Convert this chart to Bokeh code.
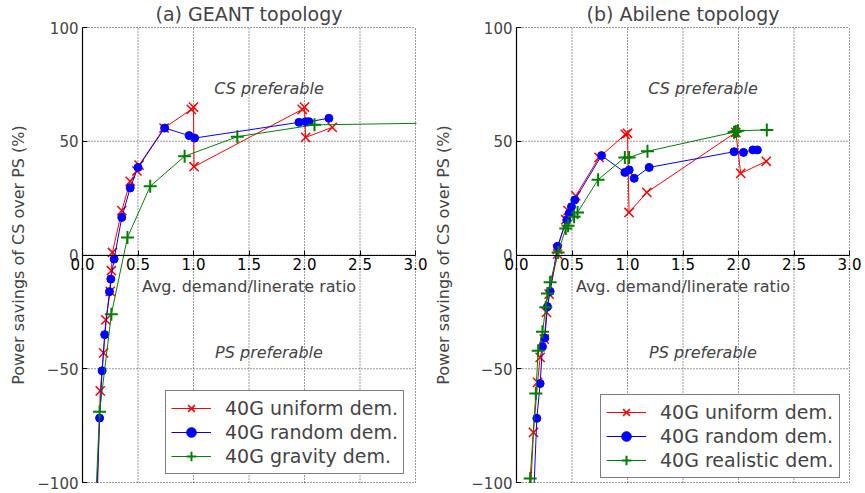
import math
from bokeh.plotting import figure
from bokeh.layouts import row
from bokeh.models import (Range1d, FixedTicker, CustomJSTickFormatter, Label,
                          Legend, LegendItem, BoxAnnotation)
from bokeh.embed import file_html
from bokeh.resources import INLINE

# ---------------- data ----------------
x_ticks = [0.0, 0.5, 1.0, 1.5, 2.0, 2.5, 3.0]
y_ticks = [-100, -50, 0, 50, 100]

# (a) GEANT topology
geant_uniform_x = [0.12, 0.16, 0.19, 0.21, 0.25, 0.26, 0.27, 0.354, 0.43, 0.49, 0.51,
                   0.735, 0.98, 1.0, 1.005, 1.98, 2.0, 2.01, 2.25]
geant_uniform_y = [-130, -59.7, -43, -28.5, -16, -6.9, 1.1, 19.5, 32.4, 37, 39.5,
                   55.8, 64, 65, 38.8, 64, 65, 51.7, 56.1]
geant_random_x = [0.11, 0.154, 0.177, 0.2, 0.243, 0.255, 0.285, 0.354, 0.43, 0.5,
                  0.74, 0.96, 1.01, 1.95, 2.01, 2.04, 2.22]
geant_random_y = [-130, -71.7, -50.9, -35, -16.1, -10.6, -1.8, 16.5, 29.5, 38.5,
                  55.8, 52.5, 51.4, 58.3, 58.6, 58.6, 60.1]
geant_gravity_x = [0.09, 0.154, 0.26, 0.405, 0.61, 0.92, 1.395, 2.09, 4.0]
geant_gravity_y = [-140, -68.9, -26, 7.7, 30.2, 43.4, 52, 57.2, 58.6]

# (b) Abilene topology
abilene_uniform_x = [0.11, 0.153, 0.19, 0.213, 0.25, 0.27, 0.294, 0.37, 0.369, 0.444,
                     0.465, 0.534, 0.744, 0.98, 1.0, 1.014, 1.174, 1.976, 2.02, 2.25]
abilene_uniform_y = [-120, -78, -56, -45, -37, -25.2, -17.2, 0.4, 2.6, 15.5,
                     19.5, 26, 42.9, 53, 53.5, 18.7, 27.5, 53.9, 35.9, 41.2]
abilene_random_x = [0.143, 0.183, 0.213, 0.234, 0.255, 0.279, 0.303, 0.369, 0.453,
                    0.474, 0.495, 0.525, 0.766, 0.976, 1.015, 1.06, 1.195, 1.96,
                    2.045, 2.13, 2.17]
abilene_random_y = [-120, -71.8, -56.5, -40.3, -36.5, -22.7, -16, 3.8, 15.4,
                    18.3, 21.2, 24.2, 43.7, 36.3, 37.4, 33.7, 38.5, 45.4,
                    45.1, 46.2, 46.2]
abilene_real_x = [0.123, 0.174, 0.195, 0.234, 0.264, 0.279, 0.303, 0.375, 0.444,
                  0.465, 0.519, 0.55, 0.735, 0.976, 1.015, 1.18, 1.96, 1.976,
                  1.995, 2.255]
abilene_real_y = [-98.2, -60.9, -42.1, -33.7, -23, -16.9, -12, 1.1, 11.7,
                  12.9, 16.8, 18.7, 33.1, 42.9, 42.9, 45.6, 54, 54.3,
                  54.6, 55]

geant_labels = ["40G uniform dem.", "40G random dem.", "40G gravity dem."]
abilene_labels = ["40G uniform dem.", "40G random dem.", "40G realistic dem."]

FONT = "DejaVu Sans"
RED, BLUE, GREEN = "#ff0000", "#0000ff", "#008000"

H = 493
PLOT_W_PX = 333     # pixel width of the 0..3 data area
PLOT_TOP_PX = 27    # pixel row of y = 100
PLOT_H_PX = 455     # pixel height of the -100..100 data area


def make_panel(title, series, labels, width, left_px, ylab_dx, legend_loc):
    xs_per_px = (x_ticks[-1] - x_ticks[0]) / PLOT_W_PX
    ys_per_px = (y_ticks[-1] - y_ticks[0]) / PLOT_H_PX
    x_rng = Range1d(x_ticks[0] - left_px * xs_per_px,
                    x_ticks[0] + (width - left_px) * xs_per_px)
    y_rng = Range1d(y_ticks[0] - (H - PLOT_TOP_PX - PLOT_H_PX) * ys_per_px,
                    y_ticks[-1] + PLOT_TOP_PX * ys_per_px)
    p = figure(width=width, height=H, x_range=x_rng, y_range=y_rng, title=None,
               output_backend="svg", toolbar_location=None,
               min_border_left=0, min_border_right=0,
               min_border_top=0, min_border_bottom=0)
    p.outline_line_color = None
    p.background_fill_color = "white"
    p.border_fill_color = "white"
    p.xgrid.visible = False
    p.ygrid.visible = False

    # dotted grid restricted to the data area
    p.segment(x0=x_ticks, y0=[y_ticks[0]] * len(x_ticks),
              x1=x_ticks, y1=[y_ticks[-1]] * len(x_ticks),
              line_color="black", line_dash="1 2", line_width=0.8)
    p.segment(x0=[x_ticks[0]] * len(y_ticks), y0=y_ticks,
              x1=[x_ticks[-1]] * len(y_ticks), y1=y_ticks,
              line_color="black", line_dash="1 2", line_width=0.8)

    items = []
    styles = [
        (RED, "x", 13, 1.5),
        (BLUE, "circle", 8, 1),
        (GREEN, "cross", 13, 2),
    ]
    for (xs, ys), lab, (col, mk, sz, lw) in zip(series, labels, styles):
        ln = p.line(xs, ys, line_color=col, line_width=1)
        if mk == "circle":
            sc = p.scatter(xs, ys, marker=mk, size=sz, fill_color=col, line_color=col)
        else:
            sc = p.scatter(xs, ys, marker=mk, size=sz, line_color=col, line_width=lw)
        items.append(LegendItem(label=lab, renderers=[ln, sc]))

    # white masks: hide what runs beyond the axes area (right of x=3, below y=-100)
    p.add_layout(BoxAnnotation(left=x_ticks[-1] + 1.0 * xs_per_px, fill_color="white",
                               fill_alpha=1, line_color=None))
    p.add_layout(BoxAnnotation(top=y_ticks[0] - 0.6 * ys_per_px,
                               left=x_ticks[0] + 1.0 * xs_per_px, fill_color="white",
                               fill_alpha=1, line_color=None))

    xa = p.xaxis[0]
    xa.fixed_location = 0
    xa.bounds = (x_ticks[0], x_ticks[-1])
    xa.ticker = FixedTicker(ticks=x_ticks)
    xa.major_tick_in = 5
    xa.major_tick_out = 0
    xa.minor_tick_line_color = None
    xa.major_label_text_color = None
    xa.axis_line_color = "black"
    xa.axis_line_width = 1.2

    ya = p.yaxis[0]
    ya.fixed_location = 0
    ya.bounds = (y_ticks[0], y_ticks[-1])
    ya.ticker = FixedTicker(ticks=y_ticks)
    ya.formatter = CustomJSTickFormatter(
        code="return tick < 0 ? '\u2212' + String(-tick) : String(tick);")
    ya.major_tick_in = 5
    ya.major_tick_out = 0
    ya.minor_tick_line_color = None
    ya.major_label_standoff = 4
    ya.major_label_text_font = FONT
    ya.major_label_text_font_size = "15px"
    ya.axis_line_color = "black"
    ya.axis_line_width = 1.2

    # x tick labels under the centred axis
    for t in x_ticks:
        p.add_layout(Label(x=t, y=0, text="%.1f" % t, text_align="center",
                           text_baseline="top", y_offset=-3, text_font=FONT,
                           text_font_size="15px", text_color="black"))

    leg = Legend(items=items, location=legend_loc)
    leg.border_line_color = "black"
    leg.border_line_width = 1
    leg.background_fill_alpha = 1
    leg.label_text_font = FONT
    leg.label_text_font_size = "19px"
    leg.glyph_width = 40
    leg.glyph_height = 24
    leg.label_height = 24
    leg.spacing = 0
    leg.padding = 5
    leg.margin = 0
    leg.label_standoff = 14
    p.add_layout(leg)

    mid_x = (x_ticks[0] + x_ticks[-1]) / 2
    p.add_layout(Label(x=mid_x, y=y_ticks[-1], text=title, text_align="center",
                       text_baseline="middle", y_offset=14, text_font=FONT,
                       text_font_size="19px"))
    p.add_layout(Label(x=x_ticks[0], y=0, text="Power savings of CS over PS (%)",
                       angle=math.pi / 2, text_align="center", text_baseline="middle",
                       x_offset=ylab_dx, text_font=FONT, text_font_size="16px"))
    p.add_layout(Label(x=mid_x, y=0, text="Avg. demand/linerate ratio", text_align="center",
                       text_baseline="top", y_offset=-22, text_font=FONT,
                       text_font_size="16px"))
    p.add_layout(Label(x=1.68, y=73, text="CS preferable", text_align="center",
                       text_baseline="middle", text_font=FONT, text_font_size="16px",
                       text_font_style="italic"))
    p.add_layout(Label(x=1.68, y=-43, text="PS preferable", text_align="center",
                       text_baseline="middle", text_font=FONT, text_font_size="16px",
                       text_font_style="italic"))
    return p


p1 = make_panel("(a) GEANT topology",
                [(geant_uniform_x, geant_uniform_y), (geant_random_x, geant_random_y),
                 (geant_gravity_x, geant_gravity_y)],
                geant_labels, 433, 82, -64, (165, 19))
p2 = make_panel("(b) Abilene topology",
                [(abilene_uniform_x, abilene_uniform_y), (abilene_random_x, abilene_random_y),
                 (abilene_real_x, abilene_real_y)],
                abilene_labels, 432, 83, -73, (167, 15))

layout = row(p1, p2)
open("out.html", "w").write(file_html(layout, INLINE))
